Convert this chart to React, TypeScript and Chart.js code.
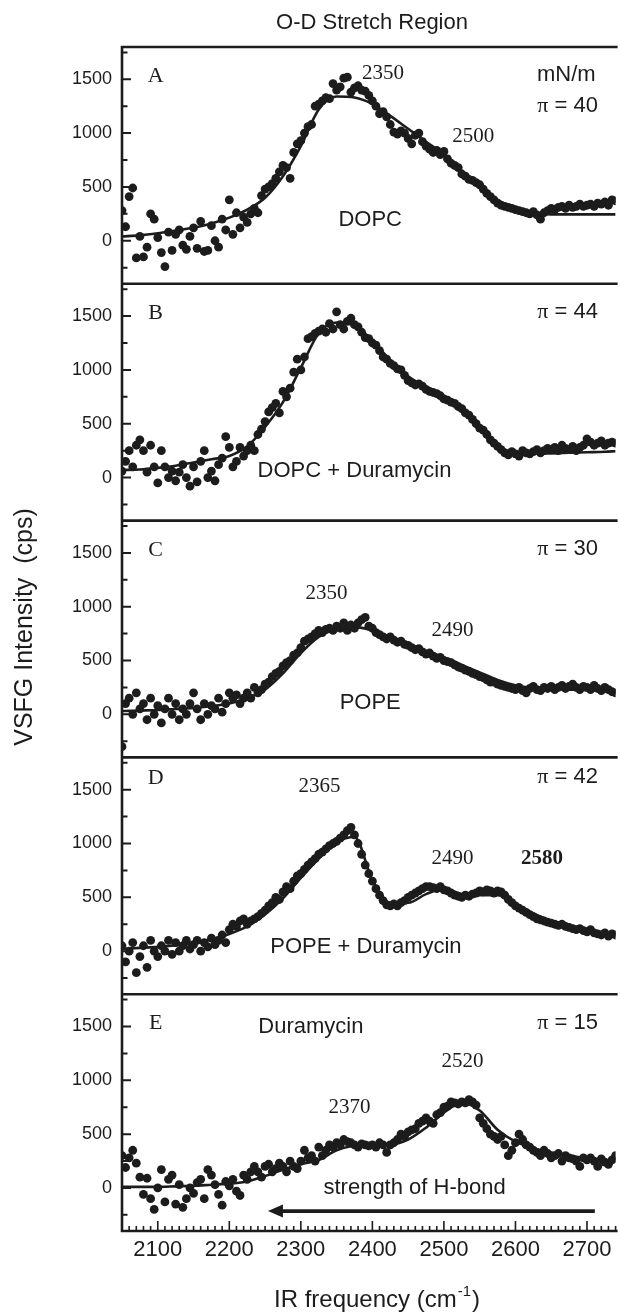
import React, { useEffect, useRef } from 'react';
import { Chart, registerables } from 'chart.js';

Chart.register(...registerables);

// ---------- data ----------
const FREQ = [
  2050, 2055, 2060, 2065, 2070, 2075, 2080, 2085, 2090, 2095,
  2100, 2105, 2110, 2115, 2120, 2125, 2130, 2135, 2140, 2145,
  2150, 2155, 2160, 2165, 2170, 2175, 2180, 2185, 2190, 2195,
  2200, 2205, 2210, 2215, 2220, 2225, 2230, 2235, 2240, 2245,
  2250, 2255, 2260, 2265, 2270, 2275, 2280, 2285, 2290, 2295,
  2300, 2305, 2310, 2315, 2320, 2325, 2330, 2335, 2340, 2345,
  2350, 2355, 2360, 2365, 2370, 2375, 2380, 2385, 2390, 2395,
  2400, 2405, 2410, 2415, 2420, 2425, 2430, 2435, 2440, 2445,
  2450, 2455, 2460, 2465, 2470, 2475, 2480, 2485, 2490, 2495,
  2500, 2505, 2510, 2515, 2520, 2525, 2530, 2535, 2540, 2545,
  2550, 2555, 2560, 2565, 2570, 2575, 2580, 2585, 2590, 2595,
  2600, 2605, 2610, 2615, 2620, 2625, 2630, 2635, 2640, 2645,
  2650, 2655, 2660, 2665, 2670, 2675, 2680, 2685, 2690, 2695,
  2700, 2705, 2710, 2715, 2720, 2725, 2730, 2735, 2740,
];

const DOPC = [
  280, 130, 410, 490, -160, 40, -150, -60, 250, 200,
  30, -110, -240, 80, -90, 60, 100, -40, -80, 40,
  120, -70, 180, -100, -90, 140, 0, -60, 200, 100,
  380, 60, 260, 120, 220, 170, 250, 300, 260, 420,
  480, 500, 530, 580, 640, 700, 680, 580, 820, 900,
  930, 1000, 1060, 1080, 1250, 1270, 1300, 1330, 1320, 1460,
  1400, 1430, 1510, 1520, 1380, 1420, 1440, 1400, 1390, 1350,
  1300, 1250, 1180, 1200, 1150, 1080, 1010, 990, 1020, 1000,
  950, 900, 980, 1000, 920, 880, 850, 820, 840, 800,
  830, 760, 720, 700, 680, 620, 600, 570, 560, 540,
  520, 480, 440, 410, 380, 350, 330, 320, 310, 300,
  290, 280, 270, 260, 250, 270, 240, 200, 260, 280,
  300, 290, 310, 320, 300, 330, 310, 320, 340, 320,
  330, 340, 320, 350, 340, 360, 330, 380, 370,
];

const DOPC_DURA = [
  60, 150, 250, 100, 300, 350, 250, 50, 300, 100,
  -50, 250, 100, 0, 60, -30, 50, 120, 0, -80,
  100, -40, 150, 250, 0, 60, -30, 120, 180, 380,
  280, 100, 150, 280, 200, 250, 300, 250, 400, 450,
  520, 610, 650, 690, 600, 800, 750, 830, 980, 1100,
  1000, 1120, 1290, 1310, 1340, 1360, 1380, 1350, 1430, 1380,
  1540, 1420, 1380, 1450, 1480, 1420, 1400, 1350, 1300, 1290,
  1250, 1230, 1180, 1120, 1100, 1060, 1040, 1010, 1000, 950,
  900, 880, 860, 870, 850, 820, 800, 790, 780, 760,
  730, 720, 700, 690, 660, 640, 600, 580, 540, 500,
  460, 440, 400, 350, 320, 290, 260, 230, 210, 240,
  220, 200, 250, 230, 220, 240, 260, 230, 250, 270,
  260, 280, 250, 300, 270, 260, 290, 250, 280, 300,
  360, 330, 300, 320, 340, 300, 320, 330, 320,
];

const POPE = [
  -300, 100, 150, 0, 200, 50, 100, -50, 150, 0,
  80, -80, 50, 150, 0, 100, -50, 50, 0, 100,
  200, 50, -50, 100, 0, 80, 50, 150, 20, 100,
  200, 150, 180, 100, 150, 200, 150, 250, 200, 230,
  280, 300, 350, 380, 400, 450, 480, 500, 550, 570,
  620, 680, 700, 720, 750, 780, 760, 790, 800, 780,
  820, 800, 850, 780, 830, 800, 850, 880, 900, 820,
  800, 760, 740, 720, 700, 720, 690, 670, 680, 650,
  640, 620, 600, 610, 580, 560, 570, 540, 520, 530,
  500, 490, 480, 460, 440, 430, 410, 400, 380, 370,
  350, 340, 320, 300, 300, 280, 270, 260, 250, 240,
  230, 250, 220, 200, 240, 260, 230, 220, 250, 240,
  260, 230, 250, 270, 240, 260, 280, 250, 230, 260,
  250, 230, 270, 240, 220, 250, 230, 210, 200,
];

const POPE_DURA = [
  50, -100, 0, 80, -200, -50, 50, -150, 100, 0,
  -50, 50, 0, 100, -30, 80, 0, 50, 100, 20,
  60, 100, 0, 80, 40, 120, 60, 100, 150, 80,
  200, 250, 230, 280, 300, 250, 280, 300, 320, 350,
  380, 420, 450, 500, 480, 550, 600, 580, 650, 700,
  720, 760, 800, 830, 860, 900, 920, 950, 980, 1000,
  1020, 1050, 1080, 1120, 1150, 1080, 1000, 900, 800, 720,
  650, 580, 520, 470, 430, 420, 440, 420, 450, 470,
  500, 520, 540, 560, 580, 600, 600, 590, 580, 600,
  570, 560, 540, 520, 510, 500, 520, 510, 530, 540,
  560, 550, 570, 560, 540, 560, 550, 520, 480, 450,
  420, 400, 380, 360, 340, 320, 300, 290, 280, 270,
  260, 250, 240, 250, 230, 220, 210, 200, 210, 190,
  180, 200, 170, 160, 150, 170, 140, 160, 150,
];

const DURA = [
  300, 190, 280, 350, 230, 100, -60, 90, -100, -200,
  0, 170, -130, 80, 120, -150, 30, -180, -100, 0,
  -50, 50, 80, -100, 170, 120, 30, -60, -160, 60,
  20, 80, -30, -70, 120, 80, 150, 200, 150, 100,
  200, 220, 150, 180, 230, 200, 150, 250, 200, 180,
  250, 350, 280, 300, 250, 380, 300, 350, 400, 380,
  420, 400, 450, 430, 420, 400, 380, 410, 400, 390,
  400, 380, 420, 400, 330, 400, 420, 450, 500, 480,
  520, 540, 550, 600, 620, 650, 620, 600, 680, 700,
  750, 760, 800, 790, 780, 800, 790, 820, 800, 770,
  650, 600, 550, 500, 480, 450, 480, 400, 300, 350,
  420, 500, 450, 400, 380, 350, 330, 300, 350, 320,
  280, 300, 320, 250, 300, 280, 270, 250, 200, 280,
  260, 280, 250, 200, 270, 240, 220, 260, 300,
];

const FIT_FREQ = [
  2050, 2075, 2100, 2125, 2150, 2175, 2200, 2225, 2250, 2275,
  2300, 2325, 2350, 2375, 2400, 2425, 2450, 2475, 2500, 2525,
  2550, 2575, 2600, 2625, 2650, 2675, 2700, 2725, 2740,
];
const DOPC_FIT = [40, 50, 70, 95, 120, 160, 215, 290, 400, 600, 880, 1220, 1340, 1330, 1270, 1160, 1040, 920, 800, 650, 500, 380, 290, 255, 245, 245, 245, 245, 245];
const DOPC_DURA_FIT = [70, 75, 90, 110, 140, 170, 200, 290, 470, 700, 1020, 1340, 1440, 1410, 1270, 1090, 940, 840, 750, 640, 470, 300, 230, 225, 225, 230, 235, 240, 245];
const POPE_FIT = [30, 35, 40, 50, 60, 75, 100, 150, 230, 380, 570, 720, 790, 810, 780, 720, 650, 590, 530, 460, 390, 320, 270, 245, 235, 230, 225, 215, 210];
const POPE_DURA_FIT = [20, 30, 40, 55, 75, 110, 160, 230, 340, 490, 680, 860, 1010, 1060, 660, 450, 450, 530, 580, 530, 520, 520, 430, 350, 280, 230, 200, 170, 160];
const DURA_FIT = [10, 10, 10, 15, 20, 30, 40, 60, 110, 170, 220, 260, 350, 395, 405, 405, 450, 560, 700, 790, 720, 540, 430, 370, 330, 300, 275, 255, 245];

const PANEL_IDS = ['yA', 'yB', 'yC', 'yD', 'yE'];
const PANEL_LETTERS = ['A', 'B', 'C', 'D', 'E'];
const SAMPLES = ['DOPC', 'DOPC + Duramycin', 'POPE', 'POPE + Duramycin', 'Duramycin'];
const PRESSURES = [40, 44, 30, 42, 15];
const SERIES = [DOPC, DOPC_DURA, POPE, POPE_DURA, DURA];
const FITS = [DOPC_FIT, DOPC_DURA_FIT, POPE_FIT, POPE_DURA_FIT, DURA_FIT];
const PEAKS: string[][] = [['2350', '2500'], [], ['2350', '2490'], ['2365', '2490', '2580'], ['2520', '2370']];

const Y_TICK_LABELS = [0, 500, 1000, 1500];
const X_TICK_LABELS = [2100, 2200, 2300, 2400, 2500, 2600, 2700];

// ---------- styling / placement ----------
const SANS = '"Liberation Sans", Arial, Helvetica, sans-serif';
const SERIF = '"Liberation Serif", "Times New Roman", serif';
const INK = '#1c1c1c';

// placement of annotations in data units (x: cm-1, y: cps on that panel)
const LETTER_Y = [1528, 1528, 1528, 1610, 1528];
const SAMPLE_POS = [[2397, 194], [2375, 60], [2397, 102], [2391, 40], [2314, 1500]];
const PEAK_POS = [
  [[2415, 1551], [2541, 965]],
  [],
  [[2336, 1126], [2512, 782]],
  [[2326, 1530], [2512, 862], [2637, 862]],
  [[2526, 1173], [2368, 745]],
];

function put(ctx: CanvasRenderingContext2D, s: string, x: number, y: number, font: string, align: CanvasTextAlign = 'center') {
  ctx.font = font;
  ctx.textAlign = align;
  ctx.textBaseline = 'middle';
  ctx.fillText(s, x, y);
}

function putPressure(ctx: CanvasRenderingContext2D, value: number, cx: number, cy: number) {
  const a = 'π';
  const b = ' = ' + value;
  ctx.font = `22px ${SERIF}`;
  const wa = ctx.measureText(a).width;
  ctx.font = `22px ${SANS}`;
  const wb = ctx.measureText(b).width;
  const x0 = cx - (wa + wb) / 2;
  put(ctx, a, x0, cy, `22px ${SERIF}`, 'left');
  put(ctx, b, x0 + wa, cy, `22px ${SANS}`, 'left');
}

const decor = {
  id: 'decor',
  afterDatasetsDraw(chart: any) {
    const ctx: CanvasRenderingContext2D = chart.ctx;
    const area = chart.chartArea;
    const xs = chart.scales.x;
    ctx.save();
    ctx.strokeStyle = INK;
    ctx.fillStyle = INK;

    // frame
    ctx.lineWidth = 2.6;
    ctx.beginPath();
    ctx.moveTo(area.left, area.top - 1.3);
    ctx.lineTo(area.left, area.bottom + 1.3);
    PANEL_IDS.forEach((id) => {
      const s = chart.scales[id];
      ctx.moveTo(area.left, s.top);
      ctx.lineTo(area.right + 2, s.top);
    });
    ctx.moveTo(area.left, area.bottom);
    ctx.lineTo(area.right + 2, area.bottom);
    ctx.stroke();

    // inward ticks
    ctx.lineWidth = 2;
    ctx.beginPath();
    PANEL_IDS.forEach((id) => {
      const s = chart.scales[id];
      for (let v = -250; v <= 1750; v += 250) {
        const y = s.getPixelForValue(v);
        const len = v % 500 === 0 ? 9 : 5.5;
        ctx.moveTo(area.left, y);
        ctx.lineTo(area.left + len, y);
      }
    });
    ctx.stroke();
    ctx.lineWidth = 1.6;
    ctx.beginPath();
    for (let v = 2060; v <= 2740; v += 10) {
      const x = xs.getPixelForValue(v);
      const len = v % 100 === 0 ? 10 : 5;
      ctx.moveTo(x, area.bottom);
      ctx.lineTo(x, area.bottom - len);
    }
    ctx.stroke();

    // panel annotations
    PANEL_IDS.forEach((id, i) => {
      const s = chart.scales[id];
      const X = (v: number) => xs.getPixelForValue(v);
      const Y = (v: number) => s.getPixelForValue(v);
      put(ctx, PANEL_LETTERS[i], X(2097), Y(LETTER_Y[i]), `22px ${SERIF}`);
      if (i === 0) {
        put(ctx, 'mN/m', X(2671), Y(1542), `22px ${SANS}`);
        putPressure(ctx, PRESSURES[i], X(2673), Y(1254));
      } else {
        putPressure(ctx, PRESSURES[i], X(2673), Y(LETTER_Y[i] + 7));
      }
      put(ctx, SAMPLES[i], X(SAMPLE_POS[i][0]), Y(SAMPLE_POS[i][1]), `22px ${SANS}`);
      PEAKS[i].forEach((p, k) => {
        const bold = i === 3 && k === 2;
        put(ctx, p, X(PEAK_POS[i][k][0]), Y(PEAK_POS[i][k][1]), `${bold ? 'bold ' : ''}21px ${SERIF}`);
      });
    });

    // H-bond arrow on panel E
    const sE = chart.scales.yE;
    put(ctx, 'strength of H-bond', xs.getPixelForValue(2459), sE.getPixelForValue(0), `22px ${SANS}`);
    const ay = sE.getPixelForValue(-215);
    const ax0 = xs.getPixelForValue(2711);
    const ax1 = xs.getPixelForValue(2254);
    ctx.lineWidth = 3.6;
    ctx.beginPath();
    ctx.moveTo(ax0, ay);
    ctx.lineTo(ax1 + 10, ay);
    ctx.stroke();
    ctx.beginPath();
    ctx.moveTo(ax1, ay);
    ctx.lineTo(ax1 + 15, ay - 6.5);
    ctx.lineTo(ax1 + 15, ay + 6.5);
    ctx.closePath();
    ctx.fill();

    // titles
    put(ctx, 'O-D Stretch Region', 372, 22.5, `22px ${SANS}`);

    ctx.save();
    ctx.translate(32, 627);
    ctx.rotate(-Math.PI / 2);
    ctx.font = `25px ${SANS}`;
    ctx.textAlign = 'center';
    ctx.textBaseline = 'alphabetic';
    ctx.fillText('VSFG Intensity  (cps)', 0, 0);
    ctx.restore();

    const main = 'IR frequency (cm';
    const sup = '-1';
    const close = ')';
    ctx.font = `24px ${SANS}`;
    const w1 = ctx.measureText(main).width;
    const w3 = ctx.measureText(close).width;
    ctx.font = `15px ${SANS}`;
    const w2 = ctx.measureText(sup).width;
    const startX = 376 - (w1 + w2 + w3) / 2;
    const base = 1307;
    ctx.textBaseline = 'alphabetic';
    ctx.textAlign = 'left';
    ctx.font = `24px ${SANS}`;
    ctx.fillText(main, startX, base);
    ctx.font = `15px ${SANS}`;
    ctx.fillText(sup, startX + w1 + 1, base - 11);
    ctx.font = `24px ${SANS}`;
    ctx.fillText(close, startX + w1 + w2 + 2, base);

    ctx.restore();
  },
};

function buildConfig(): any {
  const datasets: any[] = [];
  PANEL_IDS.forEach((id, i) => {
    datasets.push({
      type: 'line',
      label: `${SAMPLES[i]} fit`,
      data: FIT_FREQ.map((f, k) => ({ x: f, y: FITS[i][k] })),
      yAxisID: id,
      xAxisID: 'x',
      borderColor: INK,
      borderWidth: 2.6,
      pointRadius: 0,
      fill: false,
      cubicInterpolationMode: 'monotone',
      order: 0,
    });
    datasets.push({
      type: 'scatter',
      label: SAMPLES[i],
      data: FREQ.map((f, k) => ({ x: f, y: SERIES[i][k] })),
      yAxisID: id,
      xAxisID: 'x',
      backgroundColor: INK,
      borderWidth: 0,
      pointRadius: 4.4,
      order: 1,
    });
  });

  const scales: any = {
    x: {
      type: 'linear',
      position: 'bottom',
      min: 2050,
      max: 2740,
      grid: { display: false, drawTicks: false },
      border: { display: false },
      ticks: {
        color: INK,
        font: { family: SANS, size: 22 },
        padding: 6,
        maxRotation: 0,
        autoSkip: false,
        callback: (v: any) => String(v),
      },
      afterBuildTicks: (s: any) => {
        s.ticks = X_TICK_LABELS.map((v) => ({ value: v }));
      },
      afterFit: (s: any) => {
        s.height = 83;
      },
    },
  };
  PANEL_IDS.forEach((id, i) => {
    scales[id] = {
      type: 'linear',
      position: 'left',
      stack: 'panels',
      stackWeight: 1,
      weight: 5 - i,
      offset: false,
      min: -400,
      max: 1800,
      grid: { display: false, drawTicks: false },
      border: { display: false },
      ticks: {
        color: INK,
        font: { family: SANS, size: 18 },
        padding: 10,
        callback: (v: any) => String(v),
      },
      afterBuildTicks: (s: any) => {
        s.ticks = Y_TICK_LABELS.map((v) => ({ value: v }));
      },
      afterFit: (s: any) => {
        s.width = 122;
      },
    };
  });

  return {
    type: 'scatter',
    data: { datasets },
    options: {
      responsive: false,
      animation: false,
      devicePixelRatio: 1,
      layout: { padding: { top: 47, left: 0, right: 0, bottom: 0 } },
      plugins: { legend: { display: false }, tooltip: { enabled: false }, title: { display: false } },
      scales,
    },
    plugins: [decor],
  };
}

export default function App() {
  const ref = useRef<HTMLCanvasElement>(null);
  useEffect(() => {
    const canvas = ref.current;
    if (!canvas) return;
    const chart = new Chart(canvas, buildConfig());
    return () => chart.destroy();
  }, []);
  return (
    <div style={{ position: 'absolute', left: 0, top: 0, width: 620, height: 1314, background: '#fff', overflow: 'hidden' }}>
      <canvas ref={ref} width={620} height={1314} style={{ display: 'block', width: 620, height: 1314 }} />
    </div>
  );
}
